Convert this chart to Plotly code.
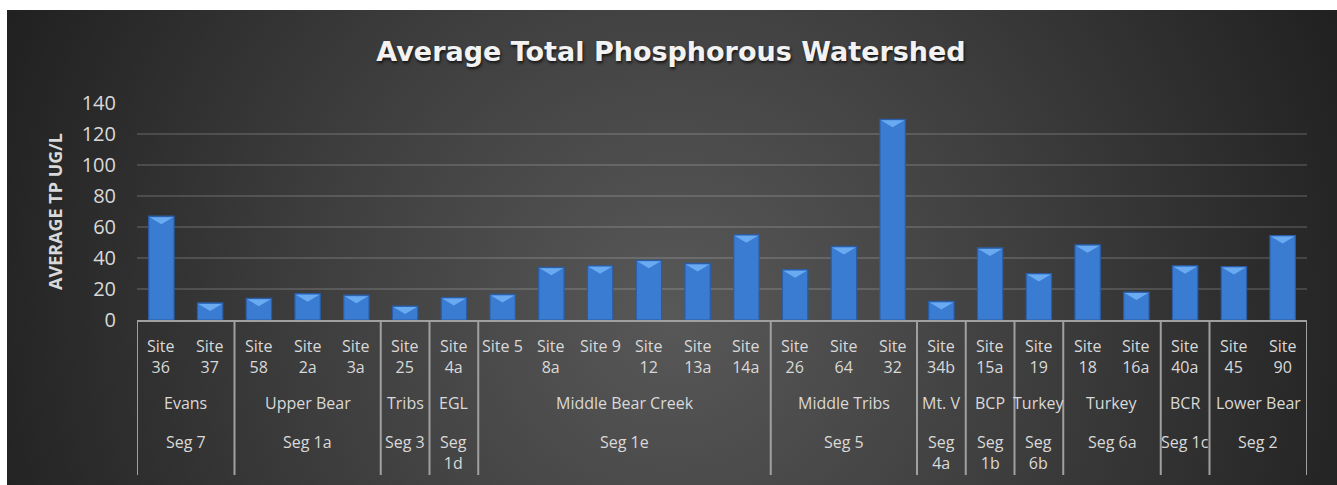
import base64
import plotly.graph_objects as go

# ---- data ----
sites = ["Site 36", "Site 37", "Site 58", "Site 2a", "Site 3a", "Site 25", "Site 4a",
         "Site 5", "Site 8a", "Site 9", "Site 12", "Site 13a", "Site 14a",
         "Site 26", "Site 64", "Site 32", "Site 34b", "Site 15a", "Site 19",
         "Site 18", "Site 16a", "Site 40a", "Site 45", "Site 90"]
values = [67, 11, 14, 17, 16, 9, 14.5,
          16.5, 34, 35, 38.5, 36.5, 55,
          32.5, 47.5, 129.5, 12, 46.5, 30,
          48.5, 18, 35, 34.5, 54.5]
groups = ["Evans", "Upper Bear", "Tribs", "EGL", "Middle Bear Creek", "Middle Tribs",
          "Mt. V", "BCP", "Turkey", "Turkey", "BCR", "Lower Bear"]
segments = ["Seg 7", "Seg 1a", "Seg 3", "Seg<br>1d", "Seg 1e", "Seg 5",
            "Seg<br>4a", "Seg<br>1b", "Seg<br>6b", "Seg 6a", "Seg 1c", "Seg 2"]
group_sizes = [2, 3, 1, 1, 6, 3, 1, 1, 1, 2, 1, 2]
y_ticks = [0, 20, 40, 60, 80, 100, 120, 140]

title = "Average Total Phosphorous Watershed"
y_title = "AVERAGE TP UG/L"

# ---- layout constants ----
W, H = 1337, 485
ML, MR, MT, MB = 137, 30, 103, 165
PW, PH = W - ML - MR, H - MT - MB
LABEL = "#d9d9d9"
FONT = "Open Sans"

def wrap(s):
    return s.replace(" ", "<br>") if len(s) > 6 else s

fig = go.Figure()
fig.add_trace(go.Bar(
    x=sites, y=values,
    marker=dict(color="#3b7cd3", line=dict(color="#2a5da6", width=1.2)),
    width=0.52, hoverinfo="x+y",
))

shapes = []
# white page strips above and left of the dark chart area
bx0, by0 = 7, 10
shapes.append(dict(type="rect", xref="paper", yref="paper", layer="below",
                   x0=-ML / PW - 0.01, x1=(W - ML) / PW + 0.01,
                   y0=(MT + PH - by0) / PH, y1=(MT + PH) / PH + 0.01,
                   fillcolor="white", line=dict(width=0)))
shapes.append(dict(type="rect", xref="paper", yref="paper", layer="below",
                   x0=-ML / PW - 0.01, x1=(bx0 - ML) / PW,
                   y0=-MB / PH - 0.01, y1=(MT + PH) / PH + 0.01,
                   fillcolor="white", line=dict(width=0)))
# bevel highlight on top of each bar
for i, v in enumerate(values):
    shapes.append(dict(
        type="path", xref="x", yref="y", ysizemode="pixel", yanchor=v,
        path=f"M {i-0.24},-1 L {i+0.24},-1 L {i},-8 Z",
        fillcolor="#6aaaf0", line=dict(width=0), layer="above",
    ))

# category-axis group dividers and labels
annotations = []
bottom = -155 / PH
start = 0
bounds = [0]
for g, s, n in zip(groups, segments, group_sizes):
    c = start + (n - 1) / 2
    annotations.append(dict(x=c, y=0, xref="x", yref="paper", text=g, showarrow=False,
                            yanchor="middle", yshift=-83,
                            font=dict(family=FONT, size=16, color=LABEL)))
    annotations.append(dict(x=c, y=0, xref="x", yref="paper", text=s, showarrow=False,
                            yanchor="top", yshift=-109,
                            font=dict(family=FONT, size=16, color=LABEL)))
    start += n
    bounds.append(start)
for b in bounds:
    shapes.append(dict(type="line", xref="x", yref="paper", x0=b - 0.5, x1=b - 0.5,
                       y0=0, y1=bottom, line=dict(color="#a0a0a0", width=2)))
for i, s in enumerate(sites):
    annotations.append(dict(x=i, y=0, xref="x", yref="paper", text=wrap(s), showarrow=False,
                            yanchor="top", yshift=-13,
                            font=dict(family=FONT, size=16, color=LABEL)))

# radial gradient background
svg = ('<svg xmlns="http://www.w3.org/2000/svg" width="1330" height="475" '
       'viewBox="0 0 1330 475" preserveAspectRatio="none"><defs>'
       '<radialGradient id="g" gradientUnits="userSpaceOnUse" cx="665" cy="300" r="720">'
       '<stop offset="0" stop-color="#585858"/><stop offset="0.5" stop-color="#3e3e3e"/>'
       '<stop offset="1" stop-color="#212121"/></radialGradient></defs>'
       '<rect x="0" y="0" width="1330" height="475" fill="url(#g)"/></svg>')
src = "data:image/svg+xml;base64," + base64.b64encode(svg.encode()).decode()
images = [dict(source=src, xref="paper", yref="paper",
               x=(bx0 - ML) / PW, y=(MT + PH - by0) / PH,
               sizex=(W - bx0 + 2) / PW, sizey=(H - by0 + 2) / PH,
               sizing="stretch", xanchor="left", yanchor="top", layer="below")]

fig.update_layout(
    width=W, height=H,
    margin=dict(l=ML, r=MR, t=MT, b=MB, autoexpand=False),
    paper_bgcolor="#212121", plot_bgcolor="rgba(0,0,0,0)",
    showlegend=False, bargap=0.48,
    title=dict(text=title, x=671 / W, xref="container", xanchor="center",
               y=1 - 52 / H, yanchor="middle",
               font=dict(family="DejaVu Sans", size=27, color="#f2f2f2", weight="bold",
                         shadow="1px 2px 3px rgba(0,0,0,0.7)")),
    xaxis=dict(type="category", showticklabels=False, ticks="", showgrid=False,
               showline=True, linecolor="#a0a0a0", linewidth=2,
               range=[-0.5, len(sites) - 0.5], fixedrange=True),
    yaxis=dict(range=[0, 140], tickvals=y_ticks, ticks="", showline=False,
               gridcolor="rgba(255,255,255,0.14)", gridwidth=1.5, zeroline=False,
               tickfont=dict(family=FONT, size=20, color=LABEL), ticklabelstandoff=20,
               title=dict(text=y_title, standoff=14,
                          font=dict(family=FONT, size=18, color=LABEL, weight="bold")),
               fixedrange=True),
    shapes=shapes, annotations=annotations, images=images,
)

fig.write_html("out.html", config={"displayModeBar": False},
               post_script="document.body.style.margin='0';document.body.style.overflow='hidden';")
